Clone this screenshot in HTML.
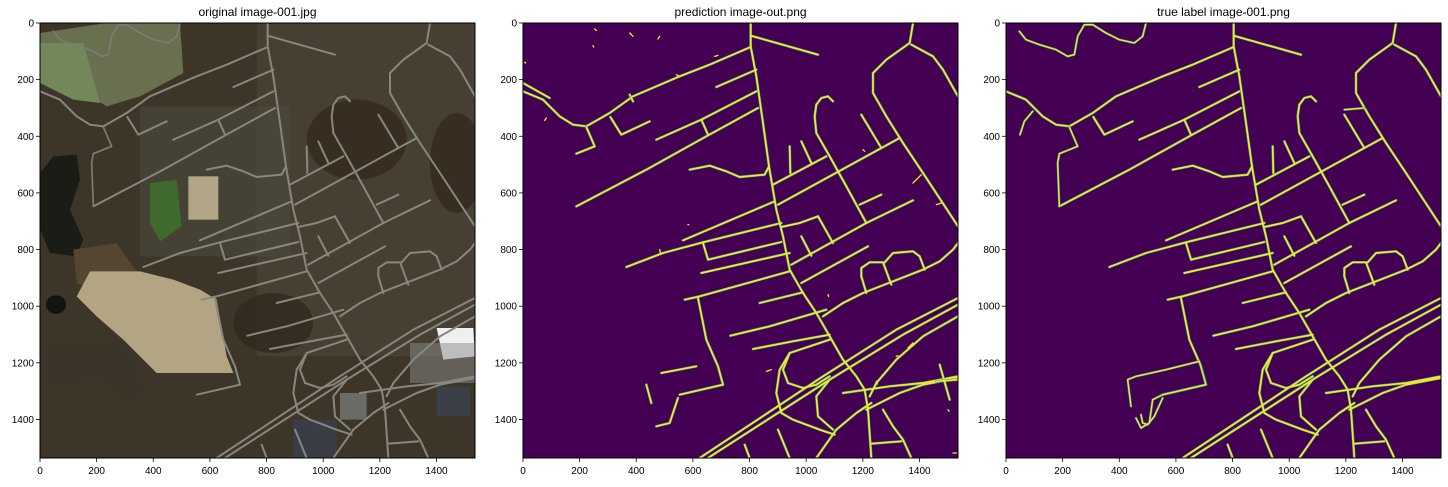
<!DOCTYPE html>
<html><head><meta charset="utf-8">
<style>
body{margin:0;background:#fff;width:1448px;height:482px;overflow:hidden;font-family:"Liberation Sans",sans-serif;}
svg text{font-family:"Liberation Sans",sans-serif;}
</style></head>
<body>
<svg id="fig" width="1448" height="482" viewBox="0 0 1448 482" xmlns="http://www.w3.org/2000/svg"></svg>
<script>
// tick values (image pixel units 0..1536)
const tickVals = [0,200,400,600,800,1000,1200,1400];
const imgSize = 1536;
const titles = ["original image-001.jpg","prediction image-out.png","true label image-001.png"];
const panelX = [40,523,1006];
const panelY = 23, panelW = 435;

// road polylines in zoom coords (0..1305)
const roadsCommon = [
 "683,0 683,70 700,160 720,300 738,430 760,560 780,640 800,740 840,810 880,870 920,940 960,1010 1000,1060 1025,1100 1035,1160 1045,1305",
 "683,38 885,95",
 "683,72 560,125 470,160 330,220 260,270 190,310 150,305 110,280 60,230 0,205",
 "262,282 295,335 380,295",
 "580,192 700,140",
 "400,350 535,290 700,205",
 "535,290 555,335",
 "160,550 370,440 550,340 705,255",
 "500,440 560,428 610,445 650,462 725,455 738,430",
 "750,485 910,400",
 "800,370 802,450", "835,355 865,420",
 "765,545 1130,345",
 "1015,275 1075,375",
 "930,235 915,220 895,225 880,245 875,280 880,330 920,400 970,490 1030,600",
 "1170,0 1160,60 1090,110 1050,150 1050,210 1090,280 1140,360 1200,450 1305,610",
 "1165,65 1230,100 1260,140 1305,220",
 "480,652 755,535",
 "775,612 830,600 885,580",
 "885,580 930,660",
 "805,725 1030,600 1170,532",
 "1010,545 1075,515",
 "310,732 420,690 540,658 775,600",
 "540,660 555,710 775,657",
 "535,750 800,690",
 "835,640 865,698",
 "835,780 1035,670",
 "485,830 530,820 800,745",
 "710,840 840,808",
 "900,880 960,840 1020,810 1200,740 1250,715 1290,680 1305,660",
 "1030,810 1015,760 1015,735 1040,718 1080,718 1105,785",
 "1085,718 1110,690 1170,685 1190,700 1205,740",
 "622,938 740,910 910,860",
 "690,978 810,955 920,935",
 "920,950 860,970 800,990 780,1040 795,1080 840,1095 880,1085 920,1060",
 "800,990 770,1040 760,1110 775,1170 810,1190 890,1220 935,1235",
 "920,1070 880,1120 885,1180 930,1220",
 "530,1305 900,1060 1120,920 1305,825",
 "555,1305 920,1070 1140,935 1305,845",
 "960,1110 1030,1100 1100,1090 1200,1080 1305,1060",
 "1030,1160 1130,1110 1200,1085 1305,1065",
 "1045,1262 1135,1255",
 "1080,1160 1110,1210 1140,1250 1165,1305",
 "880,1305 940,1220 1000,1170 1045,1140",
 "1040,1120 1060,1080 1120,1010 1200,940 1305,880",
 "665,1265 680,1305", "765,1220 800,1305",
 "525,825 550,950 585,1030 600,1085 470,1115"
];
const roadsPred = [
 "0,180 80,225", "190,312 215,370 160,392", "1250,1025 1280,1130",
 "400,1210 440,1200 465,1125", "370,1085 385,1140", "415,1050 520,1030",
 "320,215 330,235", "1240,1075 1305,1070"
];
const roadsTrue = [
 "40,25 60,50 100,65 150,80 185,100 205,95 215,40 235,5 260,5 300,30 340,50 385,60 410,40 420,0",
 "190,312 215,370 160,392 155,420 160,550",
 "80,265 55,295 42,335",
 "1015,260 1075,255",
 "375,1150 365,1070 390,1060 480,1040 580,1015 600,1085 470,1115 440,1130 430,1200 405,1215 390,1185",
 "405,1175 410,1200 425,1205 445,1180 470,1125"
];
const specks = ["215,18 220,22","320,30 330,40","410,40 405,48","210,68 212,72","70,285 65,292","460,155 470,160","495,605 497,605","410,680 412,690","1170,960 1155,975","1120,1000 1125,998","915,815 917,820","1020,380 1025,385","730,1045 745,1040","1240,545 1255,540","1195,455 1170,480","1060,1075 1063,1083","1275,1160 1278,1165","1290,1290 1300,1290","5,118 8,120","575,100 585,97"];

const NS = "http://www.w3.org/2000/svg";
const fig = document.getElementById('fig');
function mk(tag, attrs, parent){const e=document.createElementNS(NS,tag);for(const k in attrs)e.setAttribute(k,attrs[k]);(parent||fig).appendChild(e);return e;}
function sx(v){return v*panelW/imgSize;}

function drawRoads(g, list, color, w, name){
  list.forEach(pts=>{
    const p = mk('polyline',{points:pts,fill:'none',stroke:color,'stroke-width':w,'stroke-linecap':'round','stroke-linejoin':'round'},g);
    
    
  });
}

for(let i=0;i<3;i++){
  const x0=panelX[i];
  const title = mk('text',{x:x0+panelW/2,y:16,'text-anchor':'middle','font-size':12,fill:'#000'});
  title.textContent = titles[i];
  
  

  const g = mk('svg',{x:x0,y:panelY,width:panelW,height:panelW,viewBox:'0 0 1305 1305',preserveAspectRatio:'none'});
  
  
  if(i===0){
    mk('rect',{x:0,y:0,width:1305,height:1305,fill:'#3d3528'},g);
    mk('rect',{x:650,y:0,width:655,height:1000,fill:'#4a4434',opacity:0.8},g);
    mk('rect',{x:300,y:250,width:450,height:450,fill:'#4a473a',opacity:0.7},g);
    mk('ellipse',{cx:950,cy:350,rx:150,ry:120,fill:'#33291d',opacity:0.8},g);
    mk('ellipse',{cx:1250,cy:420,rx:80,ry:150,fill:'#33291d',opacity:0.8},g);
    mk('ellipse',{cx:700,cy:900,rx:120,ry:90,fill:'#30291e',opacity:0.8},g);
    mk('polygon',{points:'0,30 200,0 420,0 430,150 300,220 200,250 120,200 0,150',fill:'#69704f'},g);
    mk('polygon',{points:'0,60 130,60 180,240 100,230 0,180',fill:'#72885a'},g);
    mk('polygon',{points:'40,400 110,395 120,470 90,560 130,650 110,700 30,690 0,620 0,450',fill:'#1c1c16'},g);
    mk('polygon',{points:'100,680 230,660 300,760 160,800 110,780',fill:'#544630'},g);
    mk('polygon',{points:'150,745 300,745 400,770 480,800 530,830 560,1000 580,1050 350,1050 250,950 170,880 110,820',fill:'#b3a484'},g);
    mk('ellipse',{cx:48,cy:845,rx:30,ry:28,fill:'#141410'},g);
    mk('polygon',{points:'0,960 240,960 290,1000 310,1110 260,1130 180,1070 0,1080',fill:'#3a3528'},g);
    mk('polygon',{points:'330,480 410,470 425,610 360,655 330,600',fill:'#3f6a2e'},g);
    mk('rect',{x:445,y:460,width:90,height:130,fill:'#b1a687'},g);
    mk('polygon',{points:'1190,915 1300,915 1305,1000 1210,1010',fill:'#efefef'},g);
    mk('rect',{x:1110,y:960,width:195,height:120,fill:'#8b8b88',opacity:0.5},g);
    mk('rect',{x:760,y:1190,width:130,height:115,fill:'#3a3d45'},g);
    mk('rect',{x:1190,y:1090,width:100,height:90,fill:'#3b4048'},g);
    mk('rect',{x:900,y:1110,width:80,height:80,fill:'#6a6b64'},g);
    drawRoads(g, roadsCommon, '#87877f', 6, 'street');
    drawRoads(g, roadsTrue.slice(0,2), '#7c7c74', 5, 'street');
  } else {
    mk('rect',{x:0,y:0,width:1305,height:1305,fill:'#440154'},g);
    drawRoads(g, roadsCommon, '#2a9d8f', 8, 'road-edge');
    drawRoads(g, roadsCommon, '#fde725', 5, 'road');
    if(i===1){
      drawRoads(g, roadsPred, '#2a9d8f', 8, 'road-edge');
      drawRoads(g, roadsPred, '#fde725', 5, 'road');
      drawRoads(g, specks, '#fde725', 4, 'noise-speck');
    } else {
      drawRoads(g, roadsTrue, '#2a9d8f', 7, 'road-edge');
      drawRoads(g, roadsTrue, '#fde725', 4, 'road');
    }
  }
  const fr = mk('rect',{x:x0,y:panelY,width:panelW,height:panelW,fill:'none',stroke:'#000','stroke-width':1});
  
  

  tickVals.forEach(v=>{
    const px = x0+sx(v), py = panelY+sx(v);
    mk('line',{x1:px,y1:panelY+panelW,x2:px,y2:panelY+panelW+4,stroke:'#000','stroke-width':0.8});
    const tx = mk('text',{x:px,y:panelY+panelW+16,'text-anchor':'middle','font-size':10,fill:'#000'});
    tx.textContent = v;
    
    
    mk('line',{x1:x0-4,y1:py,x2:x0,y2:py,stroke:'#000','stroke-width':0.8});
    const ty = mk('text',{x:x0-6,y:py+3.5,'text-anchor':'end','font-size':10,fill:'#000'});
    ty.textContent = v;
    
    
  });
}
</script>
</body></html>
